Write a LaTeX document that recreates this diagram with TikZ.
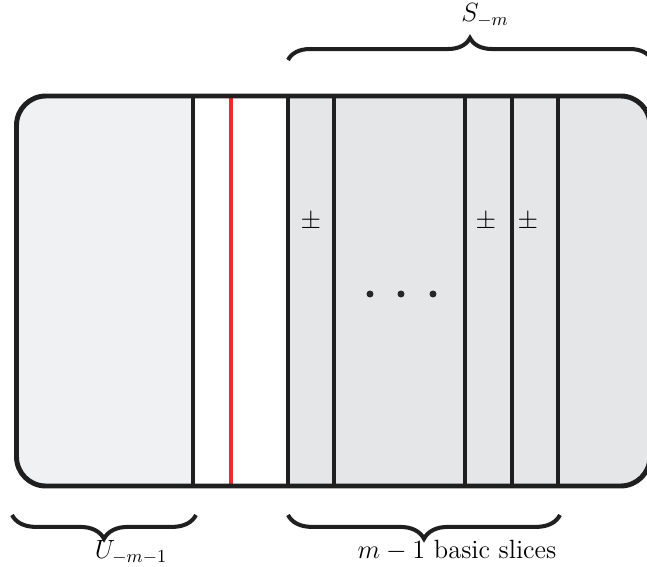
\documentclass[tikz,border=0pt]{standalone}
\usepackage{amsmath}
\usetikzlibrary{decorations.pathreplacing}
\definecolor{lightslice}{HTML}{F0F1F3}
\definecolor{slice}{HTML}{E5E6E8}
\definecolor{cutred}{HTML}{EE2A2F}

\begin{document}
\begin{tikzpicture}[x=0.546pt,y=-0.546pt,
  wall/.style={line width=2.7pt,draw=black!88},
  cut/.style={line width=1.7pt,draw=cutred},
  brc/.style={decorate,decoration={brace,amplitude=12pt},line width=2.2pt,draw=black!88},
  dot/.style={circle,fill=black!85,inner sep=0pt,minimum size=3.8pt},
  lbl/.style={font=\Large}]
  \useasboundingbox (0,0) rectangle (647,567);

  % slices
  \begin{scope}
    \clip[rounded corners=16pt] (16.5,96) rectangle (650,486);
    \fill[lightslice] (16.5,96) rectangle (193,486);
    \fill[slice] (288,96) rectangle (650,486);
  \end{scope}
  \draw[cut] (231,96) -- (231,486);
  \foreach \x in {193,288,334,465,512,558}
    \draw[wall] (\x,96) -- (\x,486);
  \draw[wall,rounded corners=16pt] (16.5,96) rectangle (650,486);

  \node[lbl] (pma) at (311,222) {$\pm$};
  \node[lbl] (pmb) at (486,222) {$\pm$};
  \node[lbl] (pmc) at (528,222) {$\pm$};
  \node[dot] (da) at (370,294) {};
  \node[dot] (db) at (401,294) {};
  \node[dot] (dc) at (433,294) {};

  % braces
  \coordinate (sl) at (288,60);
  \coordinate (sr) at (652,60);
  \coordinate (ul) at (12,515);
  \coordinate (ur) at (196,515);
  \coordinate (bl) at (288,515);
  \coordinate (br) at (560,515);
  \draw[brc] (sl) -- (sr);
  \draw[brc,decoration={amplitude=13pt}] (ur) -- (ul);
  \draw[brc,decoration={amplitude=13pt}] (br) -- (bl);
  \node[lbl] (sm) at (485,15) {$S_{-m}$};
  \node[lbl] (um) at (131,552) {$U_{-m-1}$};
  \node[lbl] (bs) at (457,550) {$m-1$ basic slices};
\end{tikzpicture}
\end{document}
